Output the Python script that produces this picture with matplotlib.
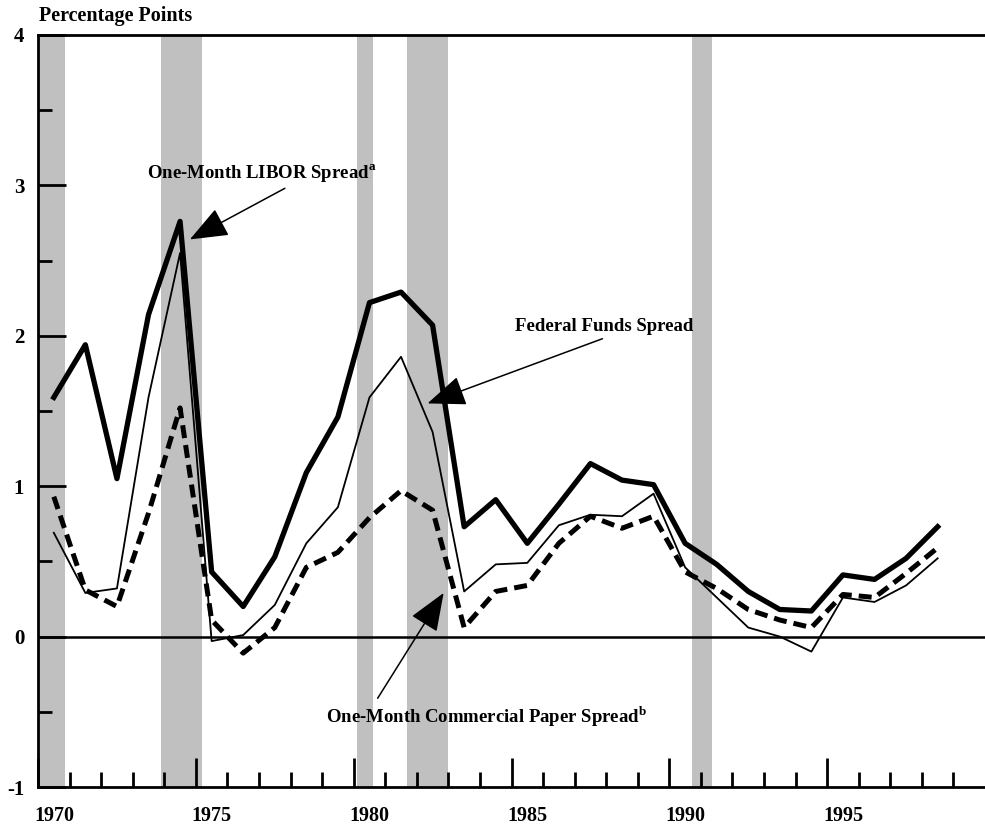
import matplotlib
matplotlib.use("Agg")
import matplotlib.pyplot as plt
import matplotlib.transforms as mtransforms

years = [1970.5 + i for i in range(29)]

libor = [1.59, 1.94, 1.05, 2.14, 2.76, 0.43, 0.20, 0.53, 1.09, 1.46,
         2.22, 2.29, 2.07, 0.73, 0.91, 0.62, 0.88, 1.15, 1.04, 1.01,
         0.62, 0.48, 0.30, 0.18, 0.17, 0.41, 0.38, 0.52, 0.73]
fed_funds = [0.69, 0.29, 0.32, 1.59, 2.55, -0.03, 0.01, 0.21, 0.62, 0.86,
             1.59, 1.86, 1.36, 0.30, 0.48, 0.49, 0.74, 0.81, 0.80, 0.95,
             0.46, 0.26, 0.06, 0.00, -0.10, 0.26, 0.23, 0.34, 0.52]
comm_paper = [0.93, 0.31, 0.20, 0.82, 1.52, 0.11, -0.11, 0.06, 0.46, 0.56,
              0.79, 0.97, 0.84, 0.06, 0.30, 0.34, 0.62, 0.80, 0.72, 0.80,
              0.43, 0.32, 0.18, 0.11, 0.06, 0.28, 0.26, 0.42, 0.59]

recessions = [(1970.0, 1970.87), (1973.9, 1975.2), (1980.1, 1980.6),
              (1981.68, 1983.0), (1990.73, 1991.36)]

plt.rcParams["font.family"] = "Liberation Serif"
plt.rcParams["font.weight"] = "bold"
plt.rcParams["mathtext.fontset"] = "custom"
plt.rcParams["mathtext.rm"] = "Liberation Serif"
plt.rcParams["mathtext.bf"] = "Liberation Serif:bold"

fig = plt.figure(figsize=(9.85, 8.3), dpi=100)
ax = fig.add_axes([0.0386, 0.0518, 0.9614, 0.9062])

for start, end in recessions:
    ax.axvspan(start, end, color="#c0c0c0", lw=0, zorder=0)

ax.axhline(0, color="black", lw=1.8, zorder=1)

ax.plot(years, libor, color="black", lw=3.8, zorder=3)
ax.plot(years, fed_funds, color="black", lw=1.3, zorder=3)
ax.plot(years, comm_paper, color="black", lw=3.6, dashes=(2.6, 1.4), zorder=3)

ax.set_xlim(1970, 2000)
ax.set_ylim(-1, 4)

ax.spines["right"].set_visible(False)
for s in ["top", "bottom", "left"]:
    ax.spines[s].set_linewidth(2)

ax.set_xticks(range(1970, 2000, 5))
ax.set_xticklabels([str(y) for y in range(1970, 2000, 5)])
ax.set_xticks(range(1970, 2000), minor=True)
ax.set_yticks(range(-1, 5))
ax.set_yticklabels([str(v) for v in range(-1, 5)])
ax.set_yticks([-0.5, 0.5, 1.5, 2.5, 3.5], minor=True)

ax.tick_params(axis="x", which="major", direction="in", length=21, width=2,
               pad=14, labelsize=14.5)
ax.tick_params(axis="x", which="minor", direction="in", length=11, width=2)
ax.tick_params(axis="y", which="major", direction="in", length=20, width=2,
               pad=10, labelsize=15)
ax.tick_params(axis="y", which="minor", direction="in", length=10, width=2)

offset = mtransforms.ScaledTranslation(0.16, 0, fig.dpi_scale_trans)
for label in ax.get_xticklabels():
    label.set_transform(label.get_transform() + offset)

fig.text(0.040, 0.981, "Percentage Points", ha="left", va="center",
         fontsize=14.5)

arrow = dict(arrowstyle="-|>,head_length=2.4,head_width=0.95",
             color="black", lw=1.1, shrinkA=0, shrinkB=0)

ax.text(1977.09, 3.08, "One-Month LIBOR Spread$^{\\mathbf{a}}$",
        fontsize=13.5, ha="center", va="center")
ax.annotate("", xy=(1974.81, 2.64), xytext=(1977.82, 2.98), arrowprops=arrow)

ax.text(1987.94, 2.06, "Federal Funds Spread", fontsize=13.5,
        ha="center", va="center")
ax.annotate("", xy=(1982.34, 1.55), xytext=(1987.88, 1.98), arrowprops=arrow)

ax.text(1984.2, -0.53, "One-Month Commercial Paper Spread$^{\\mathbf{b}}$",
        fontsize=13.5, ha="center", va="center")
ax.annotate("", xy=(1982.85, 0.29), xytext=(1980.76, -0.41), arrowprops=arrow)

fig.savefig("out.png", dpi=100)
